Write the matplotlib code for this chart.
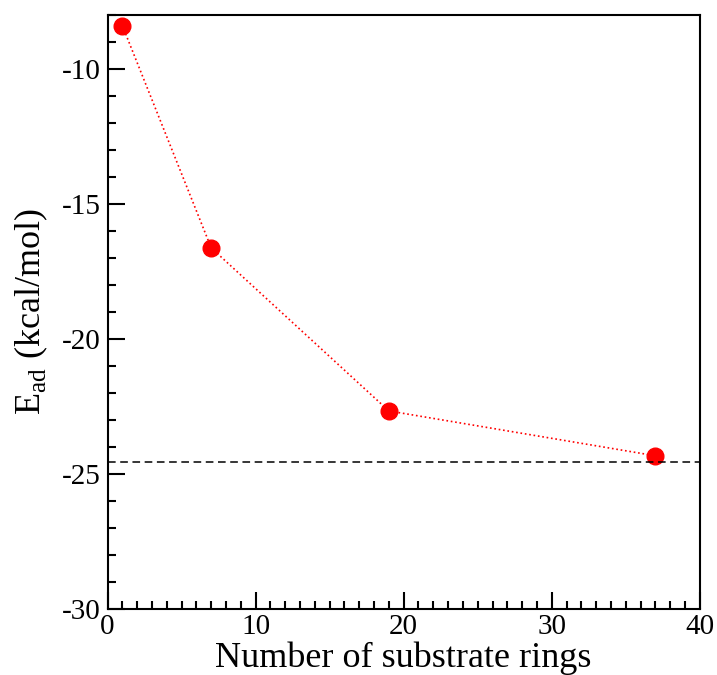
import matplotlib
matplotlib.use("Agg")
import matplotlib.pyplot as plt
from matplotlib.ticker import MultipleLocator

plt.rcParams['font.family'] = ['Liberation Serif', 'DejaVu Serif']
plt.rcParams['mathtext.fontset'] = 'custom'
plt.rcParams['mathtext.rm'] = 'Liberation Serif'
plt.rcParams['axes.unicode_minus'] = False

rings = [1, 7, 19, 37]
e_ad = [-8.4, -16.63, -22.67, -24.33]
e_limit = -24.56

fig = plt.figure(figsize=(7.17, 6.75), dpi=100)
ax = fig.add_axes([0.150, 0.098, 0.826, 0.880])

ax.plot(rings, e_ad, color='red', linestyle=':', linewidth=1.2,
        marker='o', markersize=12, markeredgecolor='red', markerfacecolor='red')
ax.axhline(e_limit, color='black', linestyle=(0, (5, 3)), linewidth=1.1)

ax.set_xlim(0, 40)
ax.set_ylim(-30, -8)
ax.xaxis.set_major_locator(MultipleLocator(10))
ax.xaxis.set_minor_locator(MultipleLocator(1))
ax.yaxis.set_minor_locator(MultipleLocator(1))
ax.set_yticks([-30, -25, -20, -15, -10])

for s in ax.spines.values():
    s.set_linewidth(1.5)
ax.tick_params(which='both', direction='in', top=False, right=False, width=1.5,
               labelsize=21)
ax.tick_params(which='major', length=12, pad=5)
ax.tick_params(which='minor', length=6)
ax.tick_params(axis='x', which='major', pad=4)

ax.set_xlabel('Number of substrate rings', fontsize=26, labelpad=0.5)
ax.set_ylabel(r'E$_{\mathrm{ad}}$ (kcal/mol)', fontsize=26, labelpad=8)

fig.savefig('out.png', dpi=100)
